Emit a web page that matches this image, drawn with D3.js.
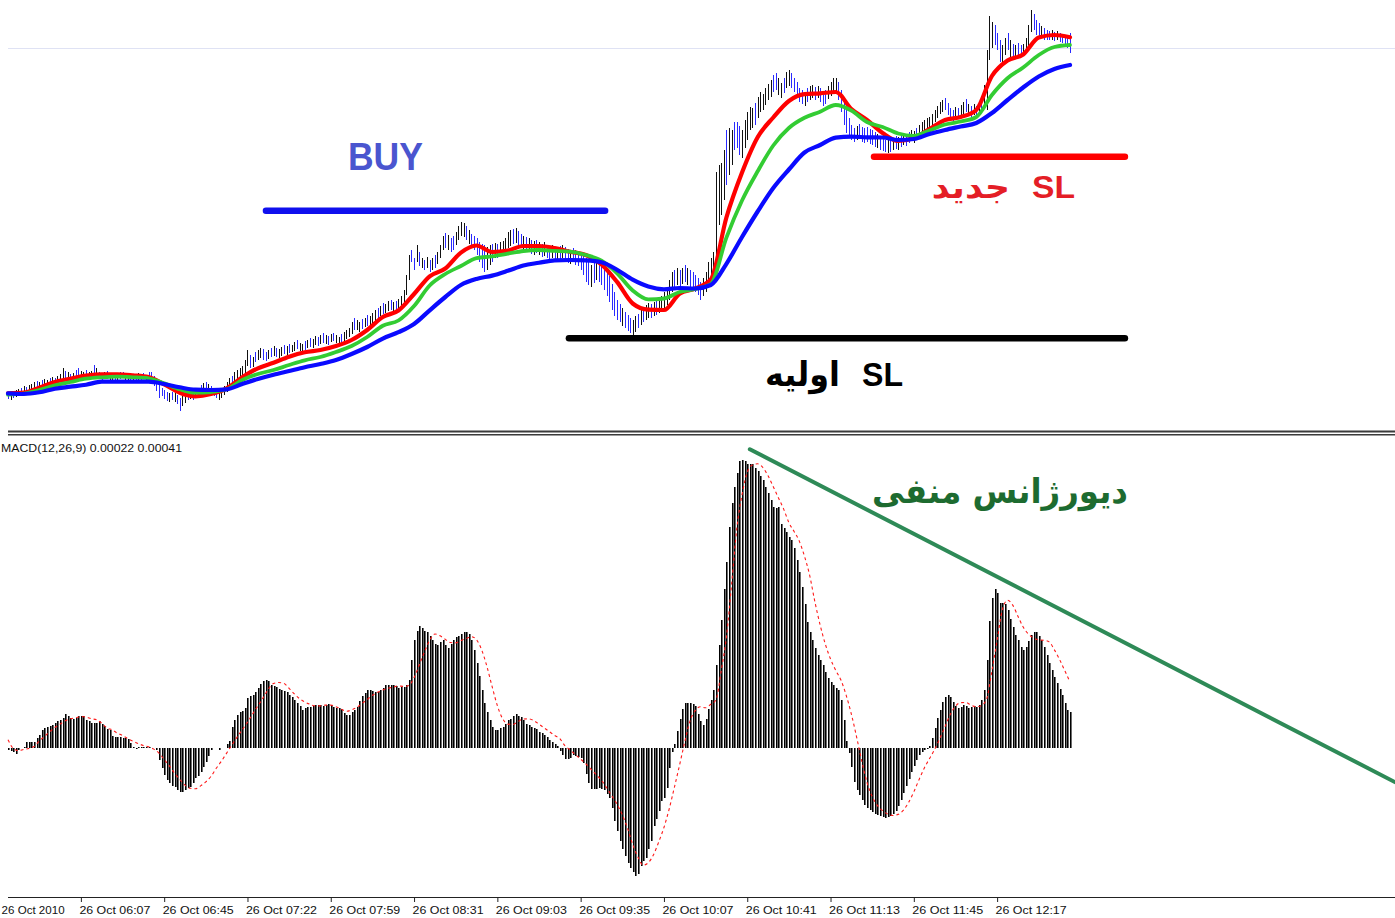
<!DOCTYPE html>
<html><head><meta charset="utf-8">
<script src="https://cdn.jsdelivr.net/npm/d3@7/dist/d3.min.js"></script>
<style>
html,body{margin:0;padding:0;background:#fff;overflow:hidden}
svg{display:block}
</style></head><body>
<svg id="chart" width="1395" height="918"></svg>
<script>
// ================= DATA =================
// 1-minute EURUSD bars, 26 Oct 2010 (high / low prices)
const high = [
1.38548,1.38547,1.38549,1.38550,1.38551,1.38552,1.38554,1.38553,1.38555,1.38556,
1.38558,1.38559,1.38558,1.38560,1.38561,1.38560,1.38562,1.38563,1.38562,1.38564,
1.38566,1.38572,1.38569,1.38568,1.38566,1.38567,1.38570,1.38572,1.38569,1.38568,
1.38570,1.38568,1.38569,1.38575,1.38572,1.38568,1.38567,1.38568,1.38569,1.38566,
1.38565,1.38567,1.38566,1.38568,1.38568,1.38567,1.38565,1.38564,1.38565,1.38566,
1.38567,1.38566,1.38567,1.38565,1.38568,1.38568,1.38564,1.38560,1.38555,1.38552,
1.38550,1.38548,1.38547,1.38548,1.38547,1.38545,1.38542,1.38544,1.38547,1.38549,
1.38550,1.38549,1.38551,1.38552,1.38555,1.38557,1.38558,1.38556,1.38554,1.38552,
1.38550,1.38548,1.38551,1.38554,1.38558,1.38562,1.38564,1.38568,1.38570,1.38572,
1.38574,1.38580,1.38590,1.38585,1.38583,1.38588,1.38590,1.38592,1.38591,1.38588,
1.38590,1.38592,1.38594,1.38592,1.38591,1.38593,1.38595,1.38594,1.38596,1.38595,
1.38598,1.38600,1.38597,1.38596,1.38599,1.38600,1.38602,1.38601,1.38604,1.38603,
1.38605,1.38607,1.38605,1.38604,1.38606,1.38607,1.38605,1.38603,1.38606,1.38608,
1.38610,1.38612,1.38618,1.38622,1.38620,1.38618,1.38621,1.38622,1.38625,1.38624,
1.38627,1.38630,1.38632,1.38634,1.38637,1.38636,1.38639,1.38640,1.38638,1.38639,
1.38641,1.38644,1.38650,1.38665,1.38685,1.38690,1.38682,1.38695,1.38688,1.38682,
1.38680,1.38683,1.38680,1.38682,1.38685,1.38688,1.38695,1.38704,1.38707,1.38705,
1.38702,1.38704,1.38708,1.38714,1.38718,1.38717,1.38714,1.38710,1.38706,1.38704,
1.38702,1.38698,1.38696,1.38695,1.38693,1.38695,1.38696,1.38697,1.38696,1.38698,
1.38699,1.38702,1.38708,1.38710,1.38711,1.38712,1.38709,1.38706,1.38704,1.38703,
1.38702,1.38700,1.38699,1.38700,1.38698,1.38696,1.38698,1.38695,1.38694,1.38695,
1.38693,1.38692,1.38694,1.38695,1.38693,1.38691,1.38690,1.38692,1.38690,1.38688,
1.38686,1.38684,1.38682,1.38678,1.38675,1.38678,1.38680,1.38678,1.38676,1.38674,
1.38670,1.38664,1.38656,1.38648,1.38640,1.38636,1.38632,1.38628,1.38625,1.38622,
1.38620,1.38624,1.38626,1.38630,1.38632,1.38635,1.38637,1.38636,1.38638,1.38640,
1.38642,1.38644,1.38648,1.38653,1.38660,1.38668,1.38670,1.38672,1.38670,1.38672,
1.38675,1.38672,1.38670,1.38668,1.38665,1.38662,1.38658,1.38662,1.38668,1.38678,
1.38682,1.38688,1.38768,1.38775,1.38777,1.38790,1.38810,1.38812,1.38810,1.38818,
1.38818,1.38814,1.38810,1.38820,1.38828,1.38833,1.38832,1.38837,1.38843,1.38848,
1.38846,1.38852,1.38856,1.38860,1.38865,1.38867,1.38862,1.38857,1.38862,1.38868,
1.38870,1.38867,1.38862,1.38858,1.38852,1.38850,1.38848,1.38852,1.38854,1.38855,
1.38853,1.38854,1.38852,1.38848,1.38850,1.38854,1.38858,1.38862,1.38862,1.38858,
1.38850,1.38840,1.38830,1.38822,1.38815,1.38812,1.38814,1.38816,1.38813,1.38812,
1.38813,1.38811,1.38810,1.38808,1.38806,1.38804,1.38802,1.38800,1.38800,1.38801,
1.38802,1.38804,1.38803,1.38806,1.38807,1.38806,1.38808,1.38810,1.38809,1.38812,
1.38815,1.38818,1.38820,1.38822,1.38823,1.38826,1.38830,1.38834,1.38838,1.38840,
1.38842,1.38837,1.38832,1.38830,1.38833,1.38832,1.38835,1.38838,1.38841,1.38836,
1.38834,1.38836,1.38834,1.38837,1.38844,1.38855,1.38890,1.38924,1.38918,1.38915,
1.38907,1.38900,1.38895,1.38902,1.38907,1.38900,1.38896,1.38895,1.38897,1.38895,
1.38896,1.38902,1.38915,1.38930,1.38926,1.38920,1.38917,1.38914,1.38912,1.38910,
1.38909,1.38910,1.38908,1.38909,1.38907,1.38906,1.38905,1.38905,1.38907];
const low = [
1.38541,1.38540,1.38542,1.38543,1.38544,1.38546,1.38547,1.38545,1.38548,1.38550,
1.38551,1.38552,1.38551,1.38553,1.38554,1.38552,1.38555,1.38556,1.38554,1.38557,
1.38558,1.38562,1.38560,1.38559,1.38558,1.38560,1.38562,1.38563,1.38561,1.38560,
1.38563,1.38560,1.38562,1.38564,1.38563,1.38561,1.38559,1.38562,1.38561,1.38559,
1.38558,1.38560,1.38560,1.38561,1.38562,1.38560,1.38559,1.38558,1.38559,1.38560,
1.38560,1.38559,1.38561,1.38559,1.38560,1.38559,1.38554,1.38549,1.38542,1.38544,
1.38541,1.38539,1.38538,1.38540,1.38538,1.38536,1.38529,1.38534,1.38537,1.38540,
1.38541,1.38540,1.38543,1.38545,1.38546,1.38548,1.38549,1.38547,1.38545,1.38544,
1.38542,1.38540,1.38542,1.38545,1.38548,1.38552,1.38554,1.38557,1.38560,1.38562,
1.38564,1.38567,1.38574,1.38572,1.38573,1.38578,1.38580,1.38582,1.38580,1.38579,
1.38581,1.38583,1.38584,1.38583,1.38582,1.38584,1.38586,1.38585,1.38587,1.38588,
1.38589,1.38591,1.38589,1.38588,1.38590,1.38592,1.38593,1.38592,1.38595,1.38594,
1.38596,1.38597,1.38596,1.38595,1.38598,1.38599,1.38597,1.38595,1.38598,1.38599,
1.38601,1.38603,1.38606,1.38610,1.38610,1.38608,1.38611,1.38613,1.38614,1.38615,
1.38617,1.38619,1.38622,1.38624,1.38626,1.38627,1.38629,1.38630,1.38628,1.38630,
1.38631,1.38634,1.38638,1.38645,1.38660,1.38678,1.38670,1.38678,1.38674,1.38672,
1.38670,1.38672,1.38668,1.38670,1.38672,1.38676,1.38682,1.38690,1.38692,1.38690,
1.38688,1.38690,1.38695,1.38700,1.38704,1.38703,1.38700,1.38696,1.38692,1.38690,
1.38685,1.38678,1.38672,1.38668,1.38670,1.38675,1.38678,1.38682,1.38682,1.38684,
1.38685,1.38688,1.38692,1.38694,1.38696,1.38697,1.38695,1.38692,1.38690,1.38689,
1.38688,1.38686,1.38685,1.38687,1.38685,1.38683,1.38684,1.38682,1.38681,1.38682,
1.38680,1.38679,1.38681,1.38682,1.38678,1.38677,1.38676,1.38678,1.38675,1.38674,
1.38670,1.38665,1.38658,1.38655,1.38653,1.38657,1.38660,1.38658,1.38655,1.38650,
1.38644,1.38638,1.38630,1.38624,1.38620,1.38618,1.38614,1.38612,1.38609,1.38607,
1.38604,1.38608,1.38612,1.38615,1.38618,1.38620,1.38622,1.38622,1.38624,1.38625,
1.38627,1.38628,1.38630,1.38635,1.38640,1.38648,1.38652,1.38655,1.38654,1.38656,
1.38658,1.38655,1.38652,1.38650,1.38648,1.38645,1.38640,1.38644,1.38648,1.38652,
1.38655,1.38660,1.38658,1.38715,1.38725,1.38740,1.38755,1.38765,1.38775,1.38790,
1.38792,1.38785,1.38782,1.38792,1.38800,1.38810,1.38812,1.38815,1.38822,1.38828,
1.38830,1.38835,1.38840,1.38843,1.38848,1.38850,1.38845,1.38842,1.38847,1.38852,
1.38854,1.38852,1.38848,1.38842,1.38838,1.38836,1.38834,1.38838,1.38840,1.38842,
1.38840,1.38842,1.38838,1.38834,1.38836,1.38841,1.38844,1.38847,1.38848,1.38840,
1.38828,1.38815,1.38807,1.38805,1.38800,1.38798,1.38800,1.38802,1.38798,1.38797,
1.38798,1.38796,1.38795,1.38793,1.38792,1.38790,1.38789,1.38788,1.38787,1.38788,
1.38790,1.38791,1.38790,1.38793,1.38795,1.38794,1.38797,1.38799,1.38797,1.38800,
1.38802,1.38805,1.38808,1.38810,1.38812,1.38814,1.38818,1.38822,1.38826,1.38828,
1.38830,1.38825,1.38820,1.38819,1.38822,1.38821,1.38824,1.38826,1.38828,1.38824,
1.38823,1.38825,1.38824,1.38826,1.38828,1.38832,1.38830,1.38880,1.38892,1.38895,
1.38890,1.38878,1.38877,1.38885,1.38890,1.38882,1.38880,1.38882,1.38884,1.38883,
1.38884,1.38888,1.38892,1.38908,1.38910,1.38905,1.38903,1.38902,1.38900,1.38900,
1.38900,1.38900,1.38899,1.38900,1.38898,1.38897,1.38895,1.38892,1.38887];
// bar direction: 1 = up (black), 0 = down (blue)
const barDir = (
"0101101011"+"1010110101"+"1101010011"+"0110100101"+"1010011010"+
"1001000000"+"0010100110"+"1011010100"+"0111110111"+"1110101100"+
"1010110101"+"1011010110"+"1010101101"+"1110110101"+"1101011010"+
"1111100101"+"0101011101"+"0011110100"+"0000110101"+"1111010010"+
"1010101001"+"0101001000"+"0000101000"+"0000001000"+"1101011010"+
"1111110101"+"0100000111"+"1111110110"+"0011111011"+"1111001101"+
"1000001011"+"0100011110"+"0000001000"+"0000100010"+"1010100110"+
"1111111111"+"0000101101"+"0101011110"+"0011010100"+"1111000100"+
"010100000").split("");

// moving averages, sampled every 6 bars
const maBars = d3.range(0, 409, 6);
const maFast = [1.385467,1.385473,1.385523,1.38558,1.385613,1.385643,1.385657,1.385657,1.385647,1.38563,
1.385557,1.385473,1.385437,1.38546,1.385517,1.385627,1.385717,1.385773,1.385833,1.385877,
1.3859,1.38594,1.386,1.3861,1.38623,1.386295,1.38646,1.386637,1.386715,1.386874,
1.386945,1.38688,1.386894,1.38694,1.38694,1.38692,1.386883,1.38685,1.386757,1.386581,
1.386365,1.386303,1.3863,1.386463,1.386515,1.386605,1.387225,1.387675,1.388028,1.388225,
1.38839,1.388458,1.388467,1.38848,1.38831,1.3882,1.38807,1.38799,1.38802,1.38811,
1.3882,1.38823,1.3883,1.38864,1.388795,1.388855,1.389025,1.38905,1.389027];
const maMid = [1.385453,1.385463,1.3855,1.385547,1.38558,1.385613,1.385627,1.385633,1.385627,1.385617,
1.385567,1.385507,1.385473,1.38548,1.385507,1.3856,1.38566,1.3857,1.38575,1.385797,
1.38583,1.38588,1.38594,1.38603,1.386143,1.386195,1.38634,1.386545,1.38666,1.38674,
1.386818,1.386836,1.386863,1.38689,1.3869,1.386891,1.386883,1.38685,1.386793,1.386667,
1.386495,1.386406,1.386415,1.38648,1.38651,1.38656,1.387023,1.387395,1.387687,1.387945,
1.38812,1.388222,1.388283,1.38835,1.388295,1.38818,1.38813,1.388065,1.388042,1.388095,
1.388155,1.388185,1.38823,1.38845,1.388617,1.388725,1.38885,1.38893,1.38895];
const maSlow = [1.385467,1.38546,1.385477,1.385513,1.385533,1.385553,1.385583,1.385583,1.385583,1.385583,
1.38556,1.385527,1.385503,1.3855,1.385507,1.38556,1.38561,1.385653,1.38569,1.385727,
1.38576,1.3858,1.38586,1.38593,1.386014,1.386078,1.38616,1.386297,1.38643,1.38655,
1.386611,1.386644,1.386692,1.386745,1.386772,1.386797,1.3868,1.386796,1.386778,1.386702,
1.386603,1.386534,1.386507,1.38652,1.386515,1.38655,1.386762,1.38703,1.387285,1.38752,
1.387705,1.387875,1.38795,1.388024,1.388033,1.388027,1.388025,1.388,1.38801,1.38806,
1.3881,1.388135,1.38817,1.38827,1.3884,1.388525,1.388635,1.38871,1.38875];

// MACD(12,26,9) main histogram, in points (0.00001)
const macdHist = [
-1.5,-1.9,-3.1,-4,-1.5,-0.6,0.2,3.5,3.5,3.5,
3.5,5.8,7.9,11,12,13,13.5,14,15.6,16.3,
17.3,18.3,21,19.4,18.3,17.9,18.3,19.4,19.8,19.4,
17.3,16.3,15.2,15.6,15.2,16.3,14.8,13.5,11.5,11,
6.9,6.5,6.5,6.3,5.8,5.8,5.2,3.1,0.6,-1,
0.2,0.6,0.2,0.6,0.2,0,-0.6,-1.5,-7.7,-12.9,
-17,-20,-22.3,-24,-24.8,-26.5,-28,-27.5,-26.5,-25.4,
-24.4,-22.3,-19.2,-18,-15,-11.9,-8.8,-5.2,-1.5,0,
0,-1.5,-0.6,0,2.1,3.8,13,17.3,20.4,21.9,
22.9,24.6,30.8,31.9,32.9,35,37,40,41.7,42.3,
41.7,39,38.5,38,36.5,36,35.6,34.4,32.9,31.5,
29.8,27.7,26,23.5,24.6,25.2,25.6,26,26.7,26.7,
26.7,26,26.7,27,26.7,25.2,24.6,24.6,24,21.5,
20.4,20.4,22.5,23.5,25.6,28.8,31.9,34,36,36,
35.6,34.4,35,36,37,39,39,39,39,38.5,
37,37.8,37.8,39,42,55,67,73,76,75,
73,72,70,67,65,64,66,67,64,62,
65,67,69,70,71,72,72,71,67,61,
53,45,36,28,22,17,13,11,11,12,
13,15,17,18,20,21,20,19,17,15,
14,13,12,11.5,10,9,8,6.5,4.7,3.4,
2.2,1,-2,-4.8,-7.3,-7.3,-6.3,-4.6,-5.2,-5.8,
-6.7,-9.4,-16.3,-21.9,-26,-26,-26,-25.4,-26,-26.7,
-28.8,-31.3,-37.5,-45.8,-52,-58.3,-63.5,-67.7,-71.9,-75,
-78,-80.2,-79.2,-74,-70.8,-68.8,-63.5,-58.3,-49,-44.8,
-39.6,-33.3,-31.3,-25,-12.5,-3.1,2.5,10.4,17.7,24,
28,28,28,27.5,26,20.8,16.3,14.2,17.7,24,
29.7,36,51.6,64,80,98.9,116,138,152.6,163,
171.8,179,180,179,177,177,177,175,173,169.7,
167,163,159,154.7,150.5,149.5,150.5,140,137,135,
131.8,129.7,124.5,117,110,100.5,90,78.6,72.4,67,
62,58,55,51.6,47,43.4,41,39,37,36,
29.7,17,4,-3.4,-12,-21.6,-26.6,-29.7,-32.8,-36,
-37.8,-39,-40.3,-41.6,-42.2,-42.8,-43.4,-44,-43.4,-42.8,
-41.6,-39.7,-36.6,-32.8,-28.4,-24,-19.7,-15.3,-11.6,-7.8,
-4.7,-2.8,-1.6,-0.9,1,6,12,18.4,23.4,28.4,
31.6,32.8,31.6,28.4,26,24.7,25.3,26.6,26,24.7,
25.3,26,25.3,26.6,29.7,36,54.7,79,93.4,99,
96.6,90.3,90.3,89.7,86,80.3,75.3,70.3,67.2,62.8,
61,62.8,66.6,70.3,72.2,72.2,69.7,67.2,62.8,57.8,
52.8,48.4,44,40.3,36.6,32.8,27.8,23.4,22];
// MACD signal line, in points, sampled every 2 bars
const signalStep = 2;
const macdSignal = [
4.8,-0.5,-2,-1.2,-0.6,0.6,4,6.9,9.8,12.5,
14.6,16.7,18,18.5,19.4,19,18,17.3,15.2,12.3,
11,9,7.5,5.6,4,2.5,1.2,0.4,-1,-3.5,
-7.5,-11.5,-16,-20,-23.5,-25.5,-25.8,-24,-21.5,-18,
-13,-8.5,-3.5,1.5,6.5,11,15.8,21,26,31,
36.5,40,40.6,40,37,33.5,30.5,28.5,27,26,
26,26.5,26.5,25.5,24,22.6,23.5,25,27.5,30,
32.7,34.5,36,37,37.7,38.5,38.2,38.8,43.7,51.6,
59.8,67,70.9,69.8,67.6,65.6,65.4,66.8,68,69.3,
67.3,60.9,50.6,38,26.2,18.1,14.6,14.4,16.3,17.8,
17.9,16.8,14.6,12.2,9.9,7.5,5.5,1,-1.5,-4.5,
-7.2,-10.3,-13.6,-17,-20.5,-25.2,-30.3,-35.5,-42,-50.5,
-60.5,-68.5,-73.5,-72,-67,-59,-50,-38.5,-25,-11,
3.5,16.5,23,25.5,24.8,27,29.7,48,69,102,
137,158,172,176.6,177.3,175,169.8,163,156,149,
140.6,135,129,119.5,107.5,91,76.6,64.6,55.3,48.2,
42.2,32.7,20.9,6.7,-8.4,-21.8,-30.6,-36.2,-39.5,-41.6,
-42.5,-41.8,-39.2,-34.3,-27.7,-20.1,-12.9,-7,-1.2,5.6,
13.1,20.6,25.8,28,28.1,26.5,25.5,26.2,30.5,48,
67,86,92,89,82,75.3,71,68.4,67.2,67,
66,61,55,48,41];

// time axis
const tickBars = [-4,28,60,92,124,156,188,220,252,284,316,348,380];
const tickLabels = ["26 Oct 2010","26 Oct 06:07","26 Oct 06:45","26 Oct 07:22","26 Oct 07:59",
"26 Oct 08:31","26 Oct 09:03","26 Oct 09:35","26 Oct 10:07","26 Oct 10:41","26 Oct 11:13",
"26 Oct 11:45","26 Oct 12:17"];

// drawn objects (bar index / price anchors)
const topLevelPrice = 1.388925;
const buyLine = {from: 99.1, to: 229.4, price: 1.387293};
const slOldLine = {from: 215.5, to: 429.1, price: 1.386017};
const slNewLine = {from: 332.7, to: 429.1, price: 1.387833};
const divergenceLine = {from: 285, to: 532.8, v0: 186.4, v1: -21.6};

// ================= CHART =================
const W = 1395, H = 918;
const svg = d3.select("#chart");
svg.append("rect").attr("width", W).attr("height", H).attr("fill", "#fff");

const x = d3.scaleLinear().domain([0, 408]).range([8, 1070]);
const yP = d3.scaleLinear().domain([1.385, 1.3894]).range([440, 0]);
const yM = d3.scaleLinear().domain([-100, 200]).range([907.5, 427.5]);
const px = i => Math.round(x(i));

// top faint level
svg.append("line").attr("x1", 8).attr("x2", W).attr("y1", Math.round(yP(topLevelPrice)) + 0.5)
  .attr("y2", Math.round(yP(topLevelPrice)) + 0.5).attr("stroke", "#dfe2f4").attr("stroke-width", 1);

// price bars
const gP = svg.append("g");
gP.selectAll("line.bar").data(d3.range(high.length)).join("line")
  .attr("class", "bar")
  .attr("x1", i => px(i) + 0.5).attr("x2", i => px(i) + 0.5)
  .attr("y1", i => yP(high[i])).attr("y2", i => yP(low[i]))
  .attr("stroke", i => barDir[i] === "1" ? "#111" : "#2a2aff")
  .attr("stroke-width", 1).attr("shape-rendering", "crispEdges");

// moving averages
const maLine = vals => d3.line().x((d, k) => x(maBars[k])).y(d => yP(d)).curve(d3.curveMonotoneX)(vals);
[[maFast, "#ff0000", 4.2], [maMid, "#33cc33", 3.8], [maSlow, "#0a0aff", 4.2]].forEach(([vals, c, w]) => {
  gP.append("path").attr("d", maLine(vals)).attr("fill", "none").attr("stroke", c)
    .attr("stroke-width", w).attr("stroke-linejoin", "round").attr("stroke-linecap", "round");
});

// horizontal lines
function hLine(o, color) {
  svg.append("line").attr("x1", x(o.from)).attr("x2", x(o.to))
    .attr("y1", yP(o.price)).attr("y2", yP(o.price))
    .attr("stroke", color).attr("stroke-width", 6.5).attr("stroke-linecap", "round");
}
hLine(buyLine, "#1010ee");
hLine(slOldLine, "#000000");
hLine(slNewLine, "#ff0000");

// panel separator
svg.append("rect").attr("x", 8).attr("y", 430.5).attr("width", W - 8).attr("height", 2).attr("fill", "#3a3a3a");
svg.append("rect").attr("x", 8).attr("y", 434).attr("width", W - 8).attr("height", 1.5).attr("fill", "#3a3a3a");

// MACD histogram
const gM = svg.append("g");
const idx = d3.range(macdHist.length);
gM.selectAll("rect.hb").data(idx).join("rect").attr("class", "hb")
  .attr("x", i => px(i)).attr("width", 1)
  .attr("y", i => Math.min(yM(0), yM(macdHist[i])))
  .attr("height", i => Math.abs(yM(macdHist[i]) - yM(0)))
  .attr("fill", "#000").attr("shape-rendering", "crispEdges");
gM.selectAll("rect.hg").data(idx).join("rect").attr("class", "hg")
  .attr("x", i => px(i) + 1).attr("width", 1)
  .attr("y", i => Math.min(yM(0), yM(macdHist[i])))
  .attr("height", i => Math.abs(yM(macdHist[i]) - yM(0)))
  .attr("fill", "#6c6c6c").attr("shape-rendering", "crispEdges");

// signal line
gM.append("path")
  .attr("d", d3.line().x((d, k) => x(k * signalStep)).y(d => yM(d)).curve(d3.curveMonotoneX)(macdSignal))
  .attr("fill", "none").attr("stroke", "#ff1a1a").attr("stroke-width", 1.1).attr("stroke-dasharray", "3,3");

// divergence trend line
svg.append("line")
  .attr("x1", x(divergenceLine.from)).attr("y1", yM(divergenceLine.v0))
  .attr("x2", x(divergenceLine.to)).attr("y2", yM(divergenceLine.v1))
  .attr("stroke", "#2e8a57").attr("stroke-width", 4).attr("stroke-linecap", "round");

// MACD label
const lastH = macdHist[macdHist.length - 1], lastS = macdSignal[macdSignal.length - 1];
svg.append("text").attr("x", 1).attr("y", 452)
  .attr("font-family", "Liberation Sans, Arial, sans-serif").attr("font-size", 11.5)
  .attr("textLength", 181).attr("lengthAdjust", "spacingAndGlyphs").attr("fill", "#111")
  .text(`MACD(12,26,9) ${(lastH / 1e5).toFixed(5)} ${(lastS / 1e5).toFixed(5)}`);

// time axis
svg.append("line").attr("x1", 8).attr("x2", W).attr("y1", 897.5).attr("y2", 897.5)
  .attr("stroke", "#222").attr("stroke-width", 1);
const axis = d3.axisBottom(x).tickValues(tickBars).tickFormat((d, k) => tickLabels[k]).tickSize(5).tickSizeOuter(0);
const gA = svg.append("g").attr("transform", "translate(0,897)").call(axis);
gA.select(".domain").remove();
gA.selectAll(".tick line").attr("stroke", "#222");
gA.selectAll(".tick text").attr("x", (d, k) => k === 0 ? 3.5 : -2).attr("y", 17).attr("dy", null)
  .attr("text-anchor", "start").attr("fill", "#111")
  .attr("font-family", "Liberation Sans, Arial, sans-serif").attr("font-size", 10.5)
  .attr("textLength", (d, k) => k === 0 ? 63 : 71).attr("lengthAdjust", "spacingAndGlyphs");

// text annotations
const latin = "Liberation Sans, Arial, sans-serif";
const persian = "DejaVu Sans, sans-serif";
function label(t, xx, yy, opt) {
  const el = svg.append("text").attr("x", xx).attr("y", yy)
    .attr("font-family", opt.font).attr("font-weight", "bold").attr("font-size", opt.size)
    .attr("fill", opt.color).attr("text-anchor", opt.anchor || "start").text(t);
  if (opt.len) el.attr("textLength", opt.len).attr("lengthAdjust", "spacingAndGlyphs");
  return el;
}
label("BUY", x(130.6), yP(1.3877), {font: latin, size: 38, color: "#4a55cf", len: 75});
label("SL", x(328.1), yP(1.38554), {font: latin, size: 34, color: "#000", len: 41});
label("اولیه", x(319.6), yP(1.38554), {font: persian, size: 34, color: "#000", anchor: "end", len: 75});
label("SL", x(393.4), yP(1.38742), {font: latin, size: 31, color: "#e41e26", len: 43});
label("جدید", x(384.9), yP(1.38742), {font: persian, size: 31, color: "#e41e26", anchor: "end", len: 78});
label("دیورژانس منفی", x(331.9), yM(152.8), {font: persian, size: 34, color: "#1d6b30", len: 256});
</script>
</body></html>
